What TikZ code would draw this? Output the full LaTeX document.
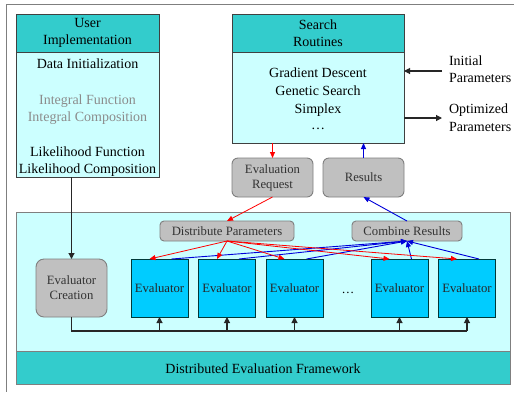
\documentclass[tikz,border=0pt]{standalone}
\usepackage{fontspec}
\setmainfont{Liberation Serif}
\usetikzlibrary{arrows.meta}
\definecolor{teal1}{HTML}{33CCCC}
\definecolor{lcyan}{HTML}{CCFFFF}
\definecolor{evcol}{HTML}{00CCFF}
\definecolor{boxgray}{HTML}{C0C0C0}
\definecolor{bordergray}{HTML}{7F7F7F}
\definecolor{txtgray}{HTML}{8C8C8C}
\begin{document}
\begin{tikzpicture}[x=1bp,y=-1bp,
  every node/.style={inner sep=0pt, outer sep=0pt},
  big/.style={font=\fontsize{14bp}{17bp}\selectfont},
  small/.style={font=\fontsize{12.7bp}{15bp}\selectfont},
  hdr/.style={draw=black!75, fill=teal1, line width=0.9bp, big, align=center},
  body/.style={draw=black!75, fill=lcyan, line width=0.9bp},
  gbox/.style={draw=bordergray, fill=boxgray, line width=0.9bp, rounded corners=6bp, small, align=center, text=black!80},
  ev/.style={draw=black!55!teal, fill=evcol, line width=0.9bp, small, text=black!85, minimum width=57bp, minimum height=58bp},
  blk/.style={-{Triangle[length=6bp,width=6bp]}, line width=1.1bp, black!85},
  redarr/.style={-{Triangle[length=6bp,width=5bp]}, red, line width=0.8bp},
  bluarr/.style={-{Triangle[length=6bp,width=5bp]}, blue!85!black, line width=0.9bp},
]
\useasboundingbox (0,0) rectangle (514,392);
\fill[white] (0,0) rectangle (514,392);
% outer frame
\draw[bordergray, line width=0.8bp] (514,4) -- (6,4) -- (6,392);

% framework
\node[body, draw=bordergray, minimum width=494bp, minimum height=139bp] (fw) at (263,281.5) {};
\node[hdr, draw=bordergray, minimum width=494bp, minimum height=33bp] (band) at (263,367.5) {};
\node[big, anchor=base] (bandT) at (263,373) {Distributed Evaluation Framework};

% user implementation
\node[body, minimum width=143bp, minimum height=125bp] (uiB) at (87.5,114.5) {};
\node[hdr, minimum width=143bp, minimum height=38bp] (uiH) at (87.5,33) {User\\Implementation};
\node[big, anchor=base] (t1) at (87.5,68) {Data Initialization};
\node[big, anchor=base, text=txtgray] (t2) at (87.5,104) {Integral Function};
\node[big, anchor=base, text=txtgray] (t3) at (87.5,121) {Integral Composition};
\node[big, anchor=base] (t4) at (87.5,156) {Likelihood Function};
\node[big, anchor=base] (t5) at (87.5,173) {Likelihood Composition};

% search routines
\node[body, minimum width=172bp, minimum height=91bp] (srB) at (318,97.5) {};
\node[hdr, minimum width=172bp, minimum height=38bp] (srH) at (318,33) {Search\\Routines};
\node[big, anchor=base] (s1) at (318,77) {Gradient Descent};
\node[big, anchor=base] (s2) at (318,95) {Genetic Search};
\node[big, anchor=base] (s3) at (318,113) {Simplex};
\node[big, anchor=base] (s4) at (318,129) {\dots};

% parameters
\node[big, anchor=base west] (ip1) at (449,65) {Initial};
\node[big, anchor=base west] (ip2) at (449,82) {Parameters};
\node[big, anchor=base west] (op1) at (449,113) {Optimized};
\node[big, anchor=base west] (op2) at (449,131) {Parameters};
\coordinate (ipA) at (442,71);
\coordinate (opA) at (442,118);
\draw[blk] (ipA) -- (ipA -| srB.east);
\draw[blk] (srB.east |- opA) -- (opA);

% request / results
\node[gbox, minimum width=81bp, minimum height=39bp] (er) at (272.5,177.5) {Evaluation\\Request};
\node[gbox, minimum width=81bp, minimum height=39bp] (res) at (363.5,177.5) {Results};
\draw[redarr] (srB.south -| er.north) -- (er.north);
\draw[bluarr] (res.north) -- (res.north |- srB.south);

% inner boxes
\node[gbox, rounded corners=4bp, minimum width=134bp, minimum height=20bp] (dp) at (227,231) {Distribute Parameters};
\node[gbox, rounded corners=4bp, minimum width=110bp, minimum height=20bp] (cr) at (407,231) {Combine Results};
\draw[redarr] (er.south) -- (dp.north);
\draw[bluarr] (cr.north) -- (res.south);

\node[gbox, rounded corners=8bp, minimum width=71bp, minimum height=58bp] (ec) at (71.5,288) {Evaluator\\Creation};
\draw[blk] (uiB.south -| ec.north) -- (ec.north);

\foreach \i/\x in {1/159.5,2/227,3/294.5,4/399.5,5/467}
  \node[ev] (ev\i) at (\x,288) {Evaluator};
\node[small, anchor=base] (dots) at (348,293) {\dots};

% bus
\coordinate (bus) at (71.5,331);
\draw[line width=1.1bp, black!85] (ec.south) -- (ec.south |- bus) -- (ev5.south |- bus);
\foreach \i in {1,...,5}
  \draw[blk] (ev\i.south |- bus) -- (ev\i.south);

% distribute / combine
\foreach \i in {1,...,5}
  \draw[bluarr] ([xshift=12bp]ev\i.north) -- (cr.south);
\foreach \i in {1,...,5}
  \draw[redarr] (dp.south) -- ([xshift=-10bp]ev\i.north);
\end{tikzpicture}
\end{document}
